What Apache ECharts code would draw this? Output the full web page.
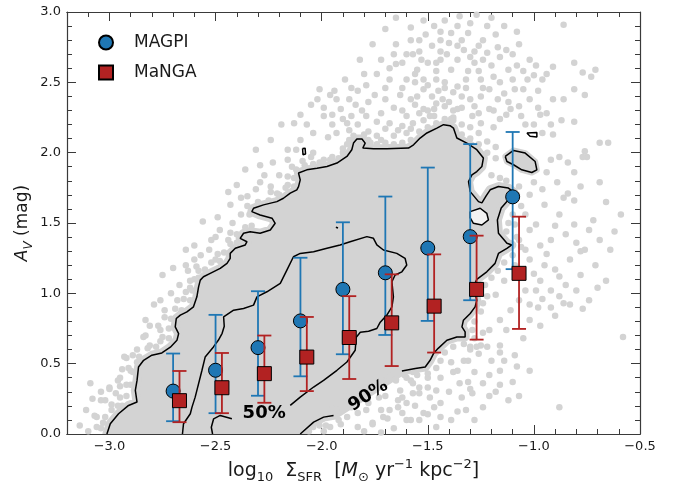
<!DOCTYPE html>
<html><head><meta charset="utf-8">
<script src="https://cdn.jsdelivr.net/npm/echarts@6/dist/echarts.min.js"></script>
<style>html,body{margin:0;padding:0;background:#fff}#c{width:676px;height:481px}</style>
</head><body><div id="c"></div>
<script>
// ---------- data ----------
const xMajorTicks = [-3.0, -2.5, -2.0, -1.5, -1.0, -0.5];
const xMinorTicks = [-3.2,-3.1,-2.9,-2.8,-2.7,-2.6,-2.4,-2.3,-2.2,-2.1,-1.9,-1.8,-1.7,-1.6,-1.4,-1.3,-1.2,-1.1,-0.9,-0.8,-0.7,-0.6];
const yTicks = [0.0, 0.5, 1.0, 1.5, 2.0, 2.5, 3.0];

const magpiX  = [-2.70,-2.50,-2.30,-2.10,-1.90,-1.70,-1.50,-1.30,-1.10];
const magpiY  = [0.305,0.453,0.614,0.804,1.028,1.146,1.322,1.403,1.686];
const magpiLo = [0.091,0.148,0.272,0.410,0.567,0.704,0.804,0.951,1.172];
const magpiHi = [0.572,0.847,1.015,1.253,1.505,1.688,1.894,2.061,2.147];

const mangaX  = [-2.67,-2.47,-2.27,-2.07,-1.87,-1.67,-1.47,-1.27,-1.07];
const mangaY  = [0.237,0.329,0.429,0.547,0.686,0.790,0.909,1.028,1.142];
const mangaLo = [0.084,0.148,0.222,0.305,0.391,0.483,0.579,0.671,0.747];
const mangaHi = [0.448,0.576,0.700,0.832,0.980,1.135,1.277,1.410,1.545];

// 90% contour (outer), main piece and piece after the label
const contour90a = [[-3.012,0],[-2.996,0.073],[-2.957,0.144],[-2.910,0.203],[-2.870,0.227],[-2.878,0.310],[-2.870,0.381],[-2.863,0.476],[-2.839,0.524],[-2.800,0.560],[-2.753,0.576],[-2.713,0.617],[-2.682,0.666],[-2.674,0.714],[-2.690,0.761],[-2.685,0.821],[-2.666,0.845],[-2.635,0.868],[-2.604,0.904],[-2.588,0.975],[-2.580,1.046],[-2.572,1.094],[-2.557,1.118],[-2.525,1.142],[-2.478,1.177],[-2.446,1.213],[-2.431,1.249],[-2.431,1.284],[-2.407,1.320],[-2.360,1.344],[-2.352,1.367],[-2.384,1.391],[-2.368,1.427],[-2.337,1.438],[-2.290,1.427],[-2.242,1.450],[-2.219,1.498],[-2.234,1.534],[-2.290,1.557],[-2.329,1.581],[-2.321,1.605],[-2.274,1.629],[-2.211,1.652],[-2.180,1.676],[-2.148,1.712],[-2.117,1.736],[-2.109,1.759],[-2.101,1.807],[-2.109,1.855],[-2.070,1.878],[-2.022,1.890],[-1.975,1.902],[-1.928,1.926],[-1.881,1.973],[-1.858,2.021],[-1.850,2.068],[-1.834,2.097],[-1.810,2.097],[-1.795,2.068],[-1.806,2.033],[-1.756,2.028],[-1.693,2.028],[-1.591,2.033],[-1.567,2.056],[-1.536,2.104],[-1.504,2.140],[-1.457,2.175],[-1.426,2.199],[-1.395,2.192],[-1.379,2.175],[-1.371,2.140],[-1.363,2.104],[-1.316,2.068],[-1.269,2.021],[-1.238,1.962],[-1.245,1.902],[-1.269,1.866],[-1.292,1.842],[-1.308,1.795],[-1.300,1.723],[-1.261,1.652],[-1.245,1.643],[-1.225,1.693],[-1.206,1.736],[-1.167,1.759],[-1.120,1.748],[-1.096,1.721],[-1.121,1.664],[-1.154,1.607],[-1.172,1.522],[-1.167,1.427],[-1.127,1.356],[-1.104,1.344],[-1.127,1.320],[-1.167,1.284],[-1.183,1.213],[-1.222,1.153],[-1.269,1.099],[-1.285,1.046],[-1.269,0.952],[-1.277,0.904],[-1.300,0.857],[-1.332,0.809],[-1.339,0.761],[-1.324,0.726],[-1.324,0.690],[-1.363,0.690],[-1.410,0.666],[-1.451,0.609],[-1.473,0.572],[-1.489,0.524],[-1.512,0.476],[-1.559,0.465],[-1.622,0.448]];
const contour90b = [[-1.944,0.132],[-1.991,0.120],[-2.038,0.084],[-2.101,0]];
const contour90hole = [[-1.300,1.581],[-1.253,1.605],[-1.222,1.569],[-1.214,1.522],[-1.245,1.486],[-1.285,1.498],[-1.300,1.536],[-1.300,1.581]];
const contour90island1 = [[-1.135,1.973],[-1.096,2.016],[-1.041,1.997],[-0.994,1.937],[-0.986,1.878],[-1.010,1.859],[-1.057,1.878],[-1.096,1.914],[-1.127,1.937],[-1.135,1.973]];
const contour90island2 = [[-1.033,2.140],[-0.986,2.144],[-0.986,2.111],[-1.018,2.116],[-1.033,2.140]];
const contour90island3 = [[-2.090,2.030],[-2.078,2.032],[-2.076,1.990],[-2.088,1.985],[-2.090,2.030]];
const contour90island4 = [[-1.933,1.470],[-1.924,1.472],[-1.923,1.464],[-1.932,1.463],[-1.933,1.470]];

// 50% contour (inner)
const contour50a = [[-2.656,0],[-2.651,0.073],[-2.619,0.144],[-2.611,0.191],[-2.596,0.262],[-2.588,0.310],[-2.564,0.453],[-2.549,0.547],[-2.510,0.619],[-2.487,0.666],[-2.469,0.716],[-2.459,0.766],[-2.462,0.832],[-2.415,0.880],[-2.368,0.892],[-2.321,0.916],[-2.305,0.975],[-2.258,1.011],[-2.195,1.071],[-2.164,1.165],[-2.133,1.260],[-2.101,1.284],[-2.038,1.296],[-1.975,1.320],[-1.913,1.344],[-1.866,1.367],[-1.787,1.403],[-1.756,1.391],[-1.740,1.344],[-1.709,1.308],[-1.646,1.284],[-1.607,1.249],[-1.599,1.201],[-1.622,1.153],[-1.654,1.130],[-1.669,1.082],[-1.662,0.975],[-1.669,0.904],[-1.693,0.845],[-1.724,0.795],[-1.740,0.750],[-1.779,0.731],[-1.818,0.723],[-1.837,0.688],[-1.842,0.595],[-1.881,0.512],[-1.928,0.453],[-1.991,0.381],[-2.038,0.334],[-2.101,0.262],[-2.148,0.203]];
const contour50b = [[-2.423,0.108],[-2.431,0.120],[-2.478,0.132],[-2.509,0.108],[-2.520,0.048],[-2.514,0]];

const contourLabelText  = ['50%', '90%'];
const contourLabelX     = [-2.271, -1.780];
const contourLabelY     = [0.150, 0.272];
const contourLabelAngle = [0, 33];

// individual points outside the dense core
const scatterPts = [
[-3.14,0.06],[-3.04,0.04],[-3.09,0.36],[-3.04,0.24],[-3.00,0.33],[-2.96,0.38],[-2.92,0.54],[-2.87,0.60],[-2.84,0.69],[-2.79,0.92],[-3.04,0.30],[-3.02,0.24],[-3.00,0.32],[-2.97,0.29],[-2.95,0.40],[-2.93,0.55],[-2.91,0.47],[-2.87,0.51],[-2.83,0.70],[-3.11,0.17],[-3.07,0.13],[-3.10,0.02],[-2.99,0.17],[-3.08,0.25],[-2.94,0.20],[-2.97,0.10],[-2.90,0.35],[-2.83,0.81],[-2.81,0.63],[-2.76,0.66],[-2.89,0.44],[-2.81,0.77],[-2.74,0.88],[-2.76,0.95],[-2.75,1.13],[-2.70,1.18],[-2.71,1.00],[-2.77,0.77],[-2.64,1.31],[-2.62,1.04],[-2.58,1.11],[-2.59,1.19],[-2.67,1.06],[-2.68,0.95],[-2.63,1.16],[-2.56,1.51],[-2.49,1.54],[-2.50,1.40],[-2.44,1.38],[-2.42,1.50],[-2.44,1.72],[-2.43,1.63],[-2.38,1.68],[-2.35,1.69],[-2.29,1.79],[-2.24,1.76],[-2.16,1.77],[-2.21,1.71],[-2.23,1.93],[-2.16,1.95],[-2.14,1.90],[-2.09,1.94],[-2.04,2.00],[-1.95,1.97],[-1.90,2.00],[-2.52,1.38],[-2.57,1.27],[-2.53,1.31],[-2.48,1.45],[-2.50,1.24],[-2.64,1.20],[-2.60,1.24],[-2.60,1.34],[-2.34,1.56],[-2.38,1.56],[-2.31,1.74],[-2.27,1.84],[-2.20,1.84],[-2.12,2.02],[-2.16,2.02],[-2.13,2.21],[-2.10,2.09],[-2.05,1.97],[-1.99,1.95],[-2.04,2.14],[-1.97,2.11],[-1.93,2.14],[-1.99,2.26],[-1.95,2.27],[-1.88,2.21],[-1.87,2.16],[-1.83,2.20],[-1.79,2.26],[-1.72,2.28],[-1.68,2.21],[-1.64,2.16],[-1.60,2.14],[-1.57,2.21],[-1.52,2.23],[-1.47,2.26],[-1.38,2.25],[-1.29,2.26],[-1.25,2.21],[-1.19,2.18],[-1.72,2.09],[-1.69,2.04],[-1.77,2.07],[-1.96,2.41],[-1.89,2.52],[-1.82,2.66],[-1.76,2.77],[-1.70,2.88],[-1.65,2.96],[-1.87,2.38],[-1.79,2.48],[-2.05,2.34],[-2.01,2.45],[-2.10,2.27],[-2.19,2.20],[-2.24,2.09],[-2.31,2.02],[-2.29,1.91],[-2.36,1.88],[-2.40,1.77],[-1.91,2.31],[-1.84,2.34],[-1.75,2.41],[-1.68,2.52],[-1.70,2.38],[-1.63,2.41],[-1.65,2.63],[-1.72,2.66],
[-1.35,2.97],[-1.27,2.98],[-0.86,2.91],[-1.58,2.89],[-1.47,2.90],[-1.39,2.85],[-1.31,2.85],[-1.14,2.90],[-1.34,2.80],[-1.40,2.78],[-1.48,2.76],[-1.54,2.72],[-1.57,2.70],[-1.33,2.73],[-1.28,2.72],[-1.22,2.71],[-1.17,2.75],[-1.13,2.73],[-0.81,2.64],[-0.91,2.61],[-0.71,2.59],[-0.73,2.54],[-0.77,2.57],[-1.03,2.52],[-0.96,2.52],[-1.12,2.59],[-1.19,2.54],[-1.25,2.52],[-1.31,2.58],[-1.39,2.59],[-1.46,2.58],[-1.52,2.52],[-1.60,2.52],[-1.42,2.50],[-1.36,2.47],[-1.25,2.40],[-1.21,2.45],[-1.17,2.38],[-1.11,2.31],[-1.07,2.33],[-1.02,2.38],[-0.98,2.32],[-0.91,2.38],[-0.86,2.38],[-0.81,2.45],[-0.76,2.41],[-0.81,2.22],[-0.87,2.23],[-0.92,2.20],[-0.96,2.14],[-0.91,2.13],[-0.76,2.01],[-0.75,1.97],[-0.69,2.07],[-0.65,2.07],[-0.69,1.79],[-0.77,1.97],[-0.84,1.93],[-0.88,1.97],[-0.81,1.86],[-0.89,1.79],[-0.94,1.86],[-0.84,1.71],[-0.78,1.76],[-0.96,1.74],[-1.00,1.79],[-0.92,1.95],[-1.62,2.64],[-1.55,2.59],[-1.58,2.38],[-1.52,2.45],[-1.47,2.31],[-1.43,2.38],[-1.36,2.31],[-1.38,2.43],[-1.30,2.38],[-1.52,2.31],[-1.60,2.26],[-1.49,2.26],[-1.39,2.24],[-1.44,2.66],[-1.51,2.84],[-1.65,2.77],[-1.58,2.80],[-1.07,2.77],[-1.02,2.66],[-1.09,2.45],[-1.13,2.27],[-1.04,2.20],[-0.97,2.27],[-1.21,2.31],
[-1.07,1.76],[-1.02,1.70],[-0.95,1.63],[-0.88,1.56],[-0.81,1.49],[-0.74,1.45],[-0.69,1.38],[-0.76,1.31],[-0.83,1.24],[-0.90,1.17],[-0.97,1.09],[-1.04,1.02],[-1.07,0.95],[-0.92,1.38],[-0.85,1.42],[-0.99,1.49],[-1.04,1.56],[-0.97,1.34],[-1.02,1.24],[-0.92,1.02],[-0.85,1.06],[-0.78,1.13],[-0.71,1.20],[-0.64,1.31],[-0.66,1.09],[-0.74,0.95],[-0.83,0.92],[-0.90,0.84],[-0.97,0.77],[-1.02,0.81],[-1.05,0.68],[-1.02,0.92],[-0.98,0.90],[-0.77,0.89],[-0.86,0.93],[-0.92,0.90],[-1.09,0.56],[-0.58,0.69],[-0.88,0.19],[-0.59,1.56],[-0.81,1.66],[-1.21,1.45],[-1.07,1.38],[-1.09,1.20],[-1.14,1.09],[-1.18,0.99],[-1.11,0.88],[-1.16,0.81],[-1.21,0.74],[-1.25,0.63],[-1.30,0.60],[-1.16,0.63],[-1.13,0.74],[-1.07,1.13],[-1.04,1.31],[-1.02,1.45],[-1.09,1.49],[-0.95,1.20],[-0.99,1.02],
[-1.21,0.42],[-1.31,0.37],[-1.29,0.29],[-1.24,0.19],[-1.36,0.45],[-1.39,0.51],[-1.33,0.52],[-1.30,0.62],[-1.26,0.57],[-1.14,0.52],[-1.16,0.45],[-1.10,0.37],[-1.47,0.19],[-1.49,0.26],[-1.44,0.12],[-1.39,0.10],[-1.57,0.29],[-1.62,0.26],[-1.64,0.19],[-1.71,0.12],[-1.76,0.07],[-1.80,0.02],[-1.58,0.38],[-1.54,0.33],[-1.50,0.40],[-1.57,0.44],[-1.61,0.42],[-1.62,0.15],[-1.58,0.10],[-1.54,0.10],[-1.72,0.01],[-1.68,0.17],[-1.93,0.17],[-1.88,0.12],[-1.91,0.07],[-1.83,0.15],[-1.79,0.17],[-1.72,0.17],[-1.76,0.08],[-1.69,0.11],[-1.64,0.24],[-1.60,0.22],[-1.63,0.31],[-1.57,0.36],[-1.54,0.29],[-1.50,0.33],[-1.46,0.31],[-1.44,0.40],[-1.38,0.44],[-1.35,0.36],[-1.28,0.44],[-1.31,0.52],[-1.27,0.62],[-1.24,0.72],[-1.60,0.10],[-1.52,0.15],[-1.96,0.05],[-1.99,0.02],[-1.83,0.05],[-1.87,0.24],[-2.01,0.06],[-1.89,0.27],[-1.82,0.35],[-1.70,0.27],[-1.65,0.38],[-1.21,0.27],[-1.16,0.35],[-1.07,0.27],[-1.02,0.45],[-1.32,0.17],[-1.28,0.10],
[-3.06,0.05],[-3.03,0.08],[-3.02,0.12],[-3.06,0.12],[-2.96,0.20],[-2.99,0.21],[-2.92,0.27],[-2.95,0.26],[-2.92,0.35],[-2.95,0.34],[-2.90,0.45],[-2.94,0.46],[-2.86,0.55],[-2.89,0.56],[-2.78,0.62],[-2.82,0.61],[-2.72,0.68],[-2.75,0.69],[-2.72,0.75],[-2.76,0.74],[-2.71,0.82],[-2.74,0.83],[-2.66,0.88],[-2.69,0.89],[-2.62,0.95],[-2.65,0.96],[-2.61,1.02],[-2.64,1.01],[-2.60,1.10],[-2.62,1.09],[-2.55,1.17],[-2.58,1.16],[-2.48,1.23],[-2.52,1.22],[-2.46,1.29],[-2.49,1.28],[-2.40,1.36],[-2.43,1.35],[-2.40,1.42],[-2.43,1.43],[-2.36,1.47],[-2.33,1.48],[-2.26,1.59],[-2.30,1.60],[-2.35,1.62],[-2.30,1.65],[-2.25,1.66],[-2.20,1.70],[-2.24,1.72],[-2.13,1.76],[-2.17,1.75],[-2.13,1.82],[-2.16,1.83],[-2.12,1.88],[-2.08,1.91],[-2.04,1.92],[-2.01,1.93],[-1.96,1.95],[-1.92,1.96],[-1.90,2.03],[-1.88,2.06],[-1.87,2.09],[-1.85,2.12],[-1.80,2.13],
[-1.78,2.09],[-1.78,2.15],[-1.74,2.06],[-1.74,2.12],[-1.70,2.07],[-1.70,2.17],[-1.66,2.06],[-1.66,2.12],[-1.62,2.07],[-1.62,2.19],[-1.58,2.09],[-1.58,2.17],[-1.54,2.15],[-1.54,2.28],[-1.50,2.18],[-1.50,2.30],[-1.46,2.21],[-1.46,2.35],[-1.42,2.24],[-1.42,2.33],[-1.38,2.23],[-1.38,2.30],[-1.34,2.13],[-1.34,2.20],[-1.30,2.10],[-1.30,2.18],[-1.26,2.06],[-1.26,2.14],[-1.22,2.00],[-1.22,2.08],[-1.18,1.96],[-1.18,2.04],[-1.20,1.84],[-1.16,1.82],[-1.13,1.80],
[-1.08,1.70],[-1.06,1.62],[-1.10,1.56],[-1.12,1.50],[-1.13,1.44],[-1.08,1.40],[-1.06,1.33],[-1.10,1.27],[-1.14,1.22],[-1.17,1.16],[-1.20,1.11],[-1.23,1.06],[-1.22,0.98],[-1.24,0.93],[-1.25,0.87],[-1.28,0.80],[-1.29,0.74],[-1.28,0.68],[-1.33,0.64],[-1.38,0.62],[-1.42,0.58],[-1.44,0.52],[-1.46,0.47],[-1.50,0.43],[-1.55,0.42],[-1.60,0.40],[-1.65,0.39],[-1.70,0.37],[-1.74,0.33],[-1.80,0.30],[-1.85,0.28],[-1.90,0.22],[-1.95,0.18],[-2.00,0.12],[-2.04,0.05],[-2.06,0.02],[-1.98,0.06],[-1.92,0.10],[-1.86,0.19],[-1.78,0.22],[-1.73,0.26],
[-1.55,2.40],[-1.50,2.48],[-1.45,2.44],[-1.40,2.36],[-1.34,2.40],[-1.28,2.33],[-1.24,2.46],[-1.16,2.50],[-1.10,2.52],[-1.05,2.45],[-1.00,2.55],[-1.44,2.72],[-1.36,2.66],[-1.28,2.64],[-1.20,2.62],[-1.50,2.64],[-1.56,2.50],[-1.62,2.46],[-1.68,2.60],[-1.44,2.86],[-1.24,2.80],[-1.18,2.84],[-1.36,2.90],[-1.52,2.94],[-1.08,2.62],[-0.98,2.44],[-0.94,2.28],[-1.00,2.20],[-1.06,2.26],[-1.16,2.24],[-1.32,2.46],[-1.46,2.52],[-1.70,2.46],[-1.78,2.36],[-1.83,2.44],[-1.93,2.38],[-1.99,2.32],[-2.07,2.20],[-1.86,2.26],[-1.74,2.22],[-1.62,2.30],[-1.56,2.34],
[-0.86,1.68],[-0.90,1.48],[-0.80,1.36],[-0.72,1.52],[-0.66,1.65],[-0.62,1.44],[-0.94,1.28],[-0.88,1.12],[-0.80,1.02],[-0.70,1.04],[-0.96,0.96],[-0.88,0.98],[-1.00,1.14],[-0.78,1.30],
[-1.40,0.30],[-1.34,0.26],[-1.30,0.32],[-1.24,0.36],[-1.18,0.30],[-1.12,0.24],[-1.44,0.22],[-1.50,0.14],[-1.56,0.20],[-1.66,0.04],[-1.46,0.05],[-1.36,0.16],[-1.20,0.52],[-1.16,0.58],[-1.08,0.48],[-1.22,0.62],
[-1.60,2.70],[-1.53,2.66],[-1.46,2.64],[-1.41,2.70],[-1.30,2.68],[-1.24,2.66],[-1.16,2.68],[-1.10,2.70],[-1.05,2.58],[-0.99,2.62],[-0.94,2.56],[-1.30,2.92],[-1.22,2.90],[-1.42,2.94],[-1.20,2.96],[-1.08,2.86],[-1.54,2.80],[-1.44,2.80],[-1.36,2.76],[-1.26,2.76],[-1.56,2.56],[-1.48,2.40],[-1.42,2.46],[-1.32,2.52],[-1.26,2.58],[-1.14,2.42],[-1.12,2.36],[-1.19,2.30],[-1.26,2.28],[-1.34,2.32],[-1.66,2.32],[-1.66,2.70],[-1.74,2.56],[-1.80,2.56],[-1.86,2.46],[-1.94,2.44],[-2.02,2.38],[-1.90,2.24],[-1.81,2.30],[-1.95,2.20]
];

// ---------- chart ----------
const AX = '#3a3a3a', TXT = '#1a1a1a', BLUE = '#1f77b4', RED = '#b22222', GREY = '#d3d3d3';
const FONT = 'DejaVu Sans';
const minus = v => (v < 0 ? '\u2212' : '') + Math.abs(v).toFixed(1);

function xAxisDef(pos, ticks, len, labels) {
  return {
    type: 'value', min: -3.2, max: -0.5, position: pos,
    axisLine: { show: true, onZero: false, lineStyle: { color: AX, width: 1.2 } },
    axisTick: { show: true, inside: true, length: len, customValues: ticks, lineStyle: { color: AX, width: 1 } },
    axisLabel: labels ? { show: true, customValues: ticks, formatter: minus, fontSize: 13, color: TXT, fontFamily: FONT, margin: 6 } : { show: false },
    splitLine: { show: false }
  };
}
function yAxisDef(pos, labels) {
  return {
    type: 'value', min: 0, max: 3, interval: 0.5, position: pos,
    axisLine: { show: true, onZero: false, lineStyle: { color: AX, width: 1.2 } },
    axisTick: { show: true, inside: true, length: 9, lineStyle: { color: AX, width: 1 } },
    minorTick: { show: true, splitNumber: 5, length: 5, lineStyle: { color: AX, width: 1 } },
    axisLabel: labels ? { show: true, customValues: yTicks, formatter: v => v.toFixed(1), fontSize: 13, color: TXT, fontFamily: FONT, margin: 6 } : { show: false },
    splitLine: { show: false }, minorSplitLine: { show: false }
  };
}

const xAxes = [
  xAxisDef('bottom', xMajorTicks, 9, true),
  xAxisDef('bottom', xMinorTicks, 5, false),
  xAxisDef('top', xMajorTicks, 9, false),
  xAxisDef('top', xMinorTicks, 5, false)
];
xAxes[0].name = '{n|log}{s|10}{n|  Σ}{s|SFR}{n|  [}{i|M}{s|⊙}{n| yr}{p|−1}{n| kpc}{p|−2}{n|]}';
xAxes[0].nameLocation = 'middle';
xAxes[0].nameGap = 20;
xAxes[0].nameTextStyle = {
  fontFamily: FONT, color: TXT,
  rich: {
    n: { fontSize: 19, fontFamily: FONT, color: TXT, lineHeight: 26 },
    i: { fontSize: 19, fontFamily: FONT, color: TXT, fontStyle: 'italic', lineHeight: 26 },
    s: { fontSize: 13, fontFamily: FONT, color: TXT, verticalAlign: 'bottom', lineHeight: 15 },
    p: { fontSize: 13, fontFamily: FONT, color: TXT, verticalAlign: 'top', lineHeight: 13 }
  }
};
const yAxes = [yAxisDef('left', true), yAxisDef('right', false)];
yAxes[0].name = '{i|A}{s|V}{n| (mag)}';
yAxes[0].nameLocation = 'middle';
yAxes[0].nameRotate = 90;
yAxes[0].nameGap = 32;
yAxes[0].nameMoveOverlap = false;
yAxes[0].nameTextStyle = {
  fontFamily: FONT, color: TXT,
  rich: {
    n: { fontSize: 17, fontFamily: FONT, color: TXT, lineHeight: 24 },
    i: { fontSize: 17, fontFamily: FONT, color: TXT, fontStyle: 'italic', lineHeight: 24 },
    s: { fontSize: 12, fontFamily: FONT, color: TXT, fontStyle: 'italic', verticalAlign: 'bottom', lineHeight: 14 }
  }
};

function lineSeries(pts) {
  return { type: 'line', data: pts, showSymbol: false, symbol: 'none', silent: true, z: 3,
    lineStyle: { color: '#000', width: 1.5 }, xAxisIndex: 0, yAxisIndex: 0, animation: false };
}
function errSeries(xs, lo, hi, color, z) {
  return {
    type: 'custom', silent: true, z: z, xAxisIndex: 0, yAxisIndex: 0,
    data: xs.map((x, i) => [x, lo[i], hi[i]]),
    encode: { x: 0, y: [1, 2] },
    renderItem: (params, api) => {
      const x = api.value(0);
      const a = api.coord([x, api.value(1)]), b = api.coord([x, api.value(2)]);
      const hw = 7, st = { stroke: color, lineWidth: 1.8 };
      return { type: 'group', children: [
        { type: 'line', shape: { x1: a[0], y1: a[1], x2: b[0], y2: b[1] }, style: st },
        { type: 'line', shape: { x1: a[0] - hw, y1: a[1], x2: a[0] + hw, y2: a[1] }, style: st },
        { type: 'line', shape: { x1: b[0] - hw, y1: b[1], x2: b[0] + hw, y2: b[1] }, style: st }
      ] };
    }
  };
}

const coreRegion = contour90a.concat(contour90b);
const series = [
  { type: 'custom', silent: true, z: 1, xAxisIndex: 0, yAxisIndex: 0, data: [[-2, 1]], clip: true,
    renderItem: (params, api) => {
      const P = arr => arr.map(p => api.coord(p));
      return { type: 'group', children: [
        { type: 'polygon', shape: { points: P(coreRegion) }, style: { fill: GREY, stroke: GREY, lineWidth: 9, lineJoin: 'round' } },
        { type: 'polygon', shape: { points: P(contour90island1) }, style: { fill: GREY, stroke: GREY, lineWidth: 6, lineJoin: 'round' } },
        { type: 'polygon', shape: { points: P(contour90hole) }, style: { fill: '#f2f2f2' } }
      ] };
    } },
  { type: 'scatter', silent: true, z: 2, data: scatterPts, symbolSize: 6.5,
    itemStyle: { color: GREY, opacity: 1 } },
  lineSeries(contour90a), lineSeries(contour90b), lineSeries(contour90hole),
  lineSeries(contour90island1), lineSeries(contour90island2), lineSeries(contour90island3), lineSeries(contour90island4),
  lineSeries(contour50a), lineSeries(contour50b),
  { type: 'custom', silent: true, z: 5, xAxisIndex: 0, yAxisIndex: 0,
    data: contourLabelX.map((x, i) => [x, contourLabelY[i], i]),
    renderItem: (params, api) => {
      const i = api.value(2);
      const p = api.coord([api.value(0), api.value(1)]);
      return { type: 'text', x: p[0], y: p[1], rotation: contourLabelAngle[i] * Math.PI / 180,
        style: { text: contourLabelText[i], fill: '#000', align: 'center', verticalAlign: 'middle',
          font: 'bold 18px "DejaVu Sans"' } };
    } },
  errSeries(magpiX, magpiLo, magpiHi, BLUE, 6),
  { name: 'MAGPI', type: 'scatter', z: 7, symbol: 'circle', symbolSize: 14,
    data: magpiX.map((x, i) => [x, magpiY[i]]),
    itemStyle: { color: BLUE, borderColor: '#000', borderWidth: 1, opacity: 1 } },
  errSeries(mangaX, mangaLo, mangaHi, RED, 8),
  { name: 'MaNGA', type: 'scatter', z: 9, symbol: 'rect', symbolSize: 14,
    data: mangaX.map((x, i) => [x, mangaY[i]]),
    itemStyle: { color: RED, borderColor: '#000', borderWidth: 1, opacity: 1 } }
];

const chart = echarts.init(document.getElementById('c'), null, { renderer: 'canvas' });
chart.setOption({
  animation: false,
  backgroundColor: '#fff',
  textStyle: { fontFamily: FONT },
  grid: { left: 67, right: 36, top: 12, bottom: 47, containLabel: false, outerBoundsMode: 'none' },
  xAxis: xAxes,
  yAxis: yAxes,
  legend: {
    data: ['MAGPI', 'MaNGA'], orient: 'vertical', left: 93, top: 29,
    itemWidth: 14, itemHeight: 14, itemGap: 13, selectedMode: false,
    textStyle: { fontSize: 17, color: TXT, fontFamily: FONT, padding: [0, 0, 0, 16] }
  },
  series: series
});
</script>
</body></html>
